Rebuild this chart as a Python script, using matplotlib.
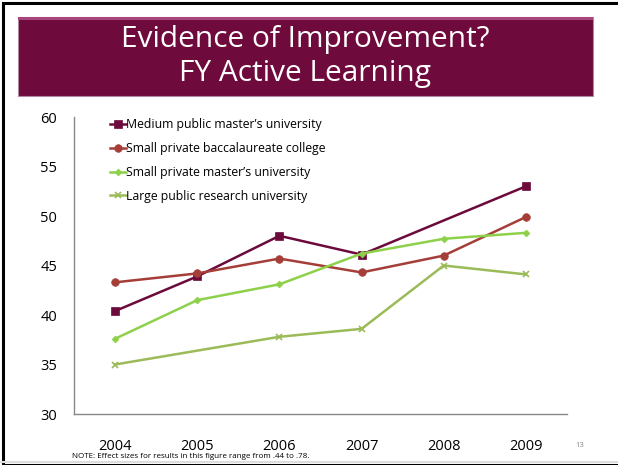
import numpy as np
import matplotlib.pyplot as plt
from matplotlib.patches import Rectangle
from matplotlib.lines import Line2D

# datos (None = sin dato)
years = [2004, 2005, 2006, 2007, 2008, 2009]
medium_public = [40.4, 43.9, 48.0, 46.1, None, 53.0]
small_bacc = [43.3, 44.2, 45.7, 44.3, 46.0, 49.9]
small_masters = [37.6, 41.5, 43.1, 46.2, 47.7, 48.3]
large_public = [35.0, None, 37.8, 38.6, 45.0, 44.1]

series = [
    ("Medium public master\u2019s university", medium_public, "#6B0A3B", "s", 5.5),
    ("Small private baccalaureate college", small_bacc, "#A53E38", "o", 5.5),
    ("Small private master\u2019s university", small_masters, "#8DD14A", "D", 3.5),
    ("Large public research university", large_public, "#9BBB59", "x", 4.5),
]

plt.rcParams['font.family'] = ['Open Sans', 'DejaVu Sans']

fig = plt.figure(figsize=(6.18, 4.65), dpi=100)

# marco del slide
fig.add_artist(Rectangle((3 / 618, 0), 1, 1 - 3 / 465, transform=fig.transFigure,
                         fill=False, edgecolor="black", linewidth=2.2))
fig.add_artist(Line2D([0, 1], [3 / 465, 3 / 465], transform=fig.transFigure,
                      color="#dddddd", linewidth=1.5))

# banda del título
x0, y0, x1, y1 = 18 / 618, 1 - 96 / 465, 593 / 618, 1 - 17 / 465
fig.add_artist(Rectangle((x0, y0), x1 - x0, y1 - y0, transform=fig.transFigure,
                         facecolor="#6E0A3C", edgecolor="#b08aa0", linewidth=0.8))
fig.add_artist(Rectangle((x0, y1 - 3 / 465), x1 - x0, 3 / 465, transform=fig.transFigure,
                         facecolor="#a8457a", edgecolor="none"))
fig.text(305 / 618, 1 - 40 / 465, "Evidence of Improvement?", ha="center", va="center",
         color="white", fontsize=21.5)
fig.text(305 / 618, 1 - 74 / 465, "FY Active Learning", ha="center", va="center",
         color="white", fontsize=21.5)

ax = fig.add_axes([74 / 618, 1 - 414 / 465, (567 - 74) / 618, (414 - 117) / 465])

for label, vals, color, marker, ms in series:
    xs = [i for i, v in enumerate(vals) if v is not None]
    ys = [v for v in vals if v is not None]
    ax.plot(xs, ys, color=color, linewidth=1.8, marker=marker, markersize=ms,
            markeredgewidth=1.2 if marker == "x" else 0.5, label=label)

ax.set_xlim(-0.5, len(years) - 0.5)
ax.set_ylim(30, 60)
ax.set_yticks(range(30, 61, 5))
ax.set_xticks(range(len(years)))
ax.set_xticklabels([str(y) for y in years])
ax.tick_params(axis="both", length=0, labelsize=10.5, colors="black")
ax.tick_params(axis="x", pad=18)
ax.tick_params(axis="y", pad=12)
for s in ["top", "right"]:
    ax.spines[s].set_visible(False)
for s in ["left", "bottom"]:
    ax.spines[s].set_color("#888888")
    ax.spines[s].set_linewidth(1)

ax.legend(loc="upper left", bbox_to_anchor=(0.063, 1.012), frameon=False, fontsize=8.8,
          handlelength=1.3, handletextpad=0.05, labelspacing=0.88, borderaxespad=0)

fig.text(72 / 618, 1 - 456 / 465, "NOTE: Effect sizes for results in this figure range from .44 to .78.",
         fontsize=5.8, va="center")
fig.text(580 / 618, 1 - 445 / 465, "13", fontsize=5.5, color="#888888", ha="center", va="center")

fig.savefig("out.png", dpi=100)
